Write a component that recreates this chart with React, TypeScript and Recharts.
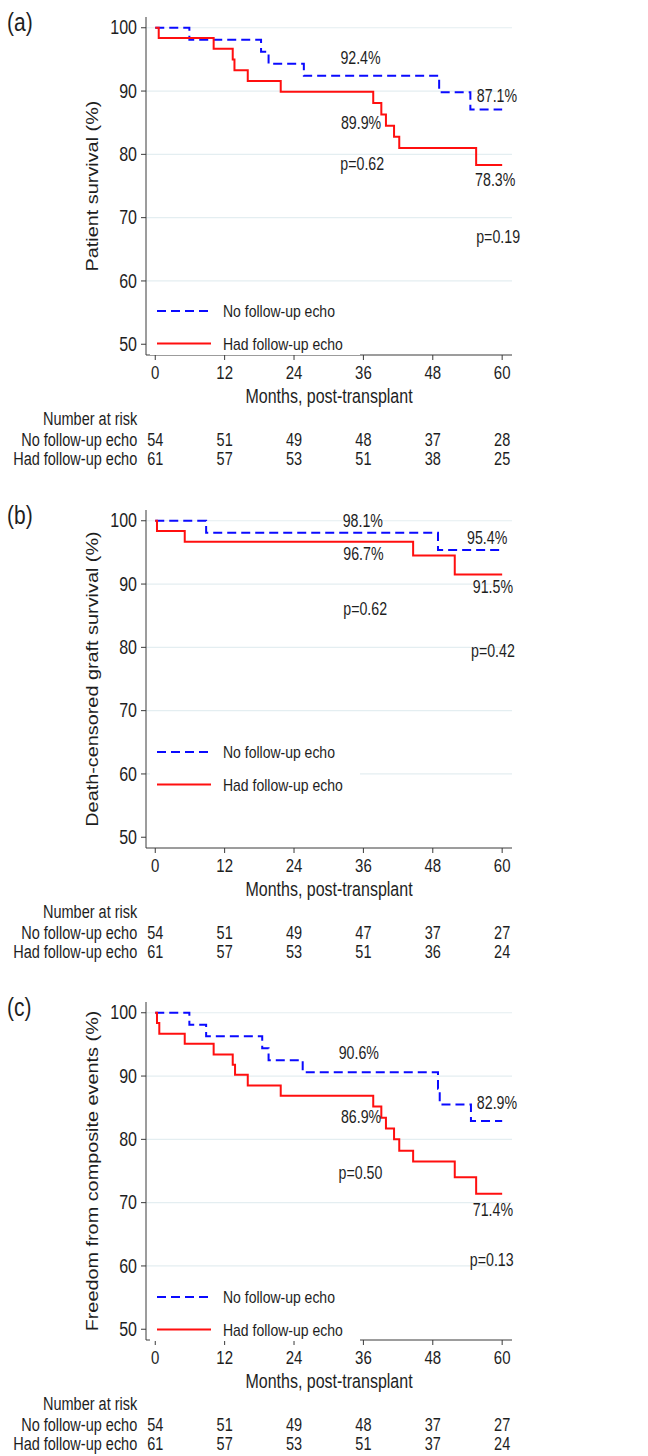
import React from 'react';
import { ComposedChart, Line, XAxis, YAxis, ReferenceLine, ReferenceDot, Legend } from 'recharts';

const FONT = '"Liberation Sans", Arial, Helvetica, sans-serif';
const INK = '#1e1e1e';
const AXIS = '#3a3a3a';
const GRID = '#e4eef1';
const BLUE = '#0a0aff';
const RED = '#ff0f0f';
const S = 1.24;

const MONTH_TICKS = [0, 12, 24, 36, 48, 60];
const Y_TICKS = [50, 60, 70, 80, 90, 100];
const GRID_VALUES = [60, 70, 80, 90, 100];
const SERIES_NAMES = ['No follow-up echo', 'Had follow-up echo'];
const X_DOMAIN = [-1.6, 61.7];
const Y_DOMAIN = [48.3, 101.7];

// ---- Panel (a): patient survival
const A_NO_T = [0, 5.9, 18.3, 19.6, 25.7, 49.1, 54.5, 60];
const A_NO_S = [100, 98.1, 96.2, 94.3, 92.4, 89.8, 87.1, 87.1];
const A_HAD_T = [0, 0.6, 10.1, 13.4, 13.7, 16.0, 21.7, 37.7, 39.1, 39.9, 41.3, 42.2, 55.5, 60];
const A_HAD_S = [100, 98.4, 96.7, 95.0, 93.3, 91.6, 89.9, 88.1, 86.3, 84.5, 82.8, 81.0, 78.3, 78.3];
const A_RISK_NO = [54, 51, 49, 48, 37, 28];
const A_RISK_HAD = [61, 57, 53, 51, 38, 25];
const A_NOTE_TEXT = ['92.4%', '87.1%', '89.9%', 'p=0.62', '78.3%', 'p=0.19'];
const A_NOTE_X = [35.5, 59.1, 35.6, 35.8, 58.8, 59.3];
const A_NOTE_Y = [95.2, 89.3, 85.0, 78.5, 75.9, 66.9];

// ---- Panel (b): death-censored graft survival
const B_NO_T = [0, 8.8, 48.9, 60];
const B_NO_S = [100, 98.1, 95.4, 95.4];
const B_HAD_T = [0, 0.3, 5.1, 44.6, 51.8, 60];
const B_HAD_S = [100, 98.4, 96.7, 94.5, 91.5, 91.5];
const B_RISK_NO = [54, 51, 49, 47, 37, 27];
const B_RISK_HAD = [61, 57, 53, 51, 36, 24];
const B_NOTE_TEXT = ['98.1%', '95.4%', '96.7%', '91.5%', 'p=0.62', 'p=0.42'];
const B_NOTE_X = [35.9, 57.4, 36.0, 58.4, 36.3, 58.4];
const B_NOTE_Y = [100.0, 97.3, 94.7, 89.5, 86.1, 79.4];

// ---- Panel (c): freedom from composite events
const C_NO_T = [0, 5.9, 8.8, 18.5, 19.6, 25.5, 48.9, 49.2, 54.6, 60];
const C_NO_S = [100, 98.1, 96.3, 94.4, 92.5, 90.6, 88.0, 85.5, 82.9, 82.9];
const C_HAD_T = [0, 0.3, 0.7, 5.1, 10.1, 13.4, 13.8, 16.0, 21.7, 37.7, 39.1, 39.9, 41.3, 42.2, 44.6, 51.8, 55.5, 60];
const C_HAD_S = [100, 98.4, 96.7, 95.1, 93.4, 91.8, 90.2, 88.5, 86.9, 85.2, 83.4, 81.7, 80.0, 78.2, 76.5, 74.0, 71.4, 71.4];
const C_RISK_NO = [54, 51, 49, 48, 37, 27];
const C_RISK_HAD = [61, 57, 53, 51, 37, 24];
const C_NOTE_TEXT = ['90.6%', '82.9%', '86.9%', 'p=0.50', '71.4%', 'p=0.13'];
const C_NOTE_X = [35.2, 59.1, 35.6, 35.5, 58.4, 58.2];
const C_NOTE_Y = [93.6, 85.7, 83.6, 74.7, 68.9, 60.9];

const toRows = (t: number[], s: number[]) => t.map((v, i) => ({ t: v, s: s[i] }));
const toRisk = (n: number[]) => MONTH_TICKS.map((m, i) => ({ t: m, n: n[i] }));
const toNotes = (txt: string[], x: number[], y: number[]) => txt.map((v, i) => ({ text: v, x: x[i], y: y[i] }));

function SText({ x, y, anchor = 'middle', size = 16, children }: any) {
  return (
    <text
      transform={`translate(${x},${y}) scale(1,${S})`}
      textAnchor={anchor}
      dominantBaseline="central"
      fontSize={size}
      fontFamily={FONT}
      fill={INK}
    >
      {children}
    </text>
  );
}

const YTick = (p: any) => (
  <SText x={p.x} y={p.y} anchor="end" size={16}>{p.payload.value}</SText>
);

const XTick = (p: any) => (
  <SText x={p.x} y={p.y + 13} size={15}>{p.payload.value}</SText>
);

const XLabel = (p: any) => {
  const vb = p.viewBox || {};
  return <SText x={vb.x + vb.width / 2} y={vb.y + 41} size={16}>Months, post-transplant</SText>;
};

const YLabel = (p: any) => {
  const vb = p.viewBox || {};
  const cx = vb.x + 93;
  const cy = vb.y + vb.height / 2;
  return (
    <text
      transform={`translate(${cx},${cy}) rotate(-90) scale(${S},1)`}
      textAnchor="middle"
      dominantBaseline="central"
      fontSize={16}
      fontFamily={FONT}
      fill={INK}
    >
      {p.text}
    </text>
  );
};

const RiskTick = (p: any) => {
  const idx = MONTH_TICKS.indexOf(p.payload.value);
  const rowY = p.y + p.rowOffset;
  return (
    <g>
      {idx === 0 && p.header ? (
        <SText x={p.x - 18} y={p.y + 12.5} anchor="end" size={14.5}>Number at risk</SText>
      ) : null}
      {idx === 0 ? (
        <SText x={p.x - 18} y={rowY} anchor="end" size={14.5}>{p.rowLabel}</SText>
      ) : null}
      <SText x={p.x} y={rowY} size={14.5}>{p.values[idx]}</SText>
    </g>
  );
};

const LegendBox = (p: any) => {
  const items = SERIES_NAMES.map((n) => (p.payload || []).find((e: any) => e.value === n)).filter(Boolean);
  return (
    <svg width={210} height={72} style={{ display: 'block' }}>
      {items.map((e: any, i: number) => {
        const y = 28 + i * 32.5;
        return (
          <g key={e.value}>
            <line
              x1={7}
              x2={61}
              y1={y}
              y2={y}
              stroke={e.color}
              strokeWidth={2}
              strokeDasharray={i === 0 ? '9 5' : undefined}
            />
            <SText x={73} y={y} anchor="start" size={14}>{e.value}</SText>
          </g>
        );
      })}
    </svg>
  );
};

function Panel({ letter, yLabel, no, had, notes, riskNo, riskHad, legendTop }: any) {
  return (
    <div style={{ position: 'relative', width: 648, height: 492 }}>
      <ComposedChart width={648} height={492} margin={{ top: 17, right: 136, left: 0, bottom: 24 }}>
        {GRID_VALUES.map((v) => (
          <ReferenceLine key={v} xAxisId="m" y={v} stroke={GRID} strokeWidth={1.2} />
        ))}
        <XAxis
          xAxisId="m"
          type="number"
          dataKey="t"
          domain={X_DOMAIN}
          ticks={MONTH_TICKS}
          interval={0}
          allowDataOverflow
          height={51}
          tickSize={5}
          tickMargin={0}
          stroke={AXIS}
          tick={<XTick />}
          label={<XLabel />}
        />
        <XAxis
          xAxisId="r1"
          type="number"
          dataKey="t"
          domain={X_DOMAIN}
          ticks={MONTH_TICKS}
          interval={0}
          allowDataOverflow
          height={42}
          axisLine={false}
          tickLine={false}
          tickSize={0}
          tickMargin={0}
          tick={<RiskTick values={riskNo} rowLabel={SERIES_NAMES[0]} header rowOffset={33} />}
        />
        <XAxis
          xAxisId="r2"
          type="number"
          dataKey="t"
          domain={X_DOMAIN}
          ticks={MONTH_TICKS}
          interval={0}
          allowDataOverflow
          height={20}
          axisLine={false}
          tickLine={false}
          tickSize={0}
          tickMargin={0}
          tick={<RiskTick values={riskHad} rowLabel={SERIES_NAMES[1]} rowOffset={10.5} />}
        />
        <YAxis
          type="number"
          domain={Y_DOMAIN}
          ticks={Y_TICKS}
          interval={0}
          allowDataOverflow
          width={146}
          tickSize={5}
          tickMargin={4}
          stroke={AXIS}
          tick={<YTick />}
          label={<YLabel text={yLabel} />}
        />
        {/* invisible carriers for the number-at-risk rows (give those axes their data) */}
        <Line
          xAxisId="r1"
          data={toRisk(riskNo)}
          dataKey="n"
          name="risk-no"
          stroke="none"
          dot={false}
          activeDot={false}
          legendType="none"
          isAnimationActive={false}
        />
        <Line
          xAxisId="r2"
          data={toRisk(riskHad)}
          dataKey="n"
          name="risk-had"
          stroke="none"
          dot={false}
          activeDot={false}
          legendType="none"
          isAnimationActive={false}
        />
        <Line
          xAxisId="m"
          data={no}
          dataKey="s"
          name={SERIES_NAMES[0]}
          type="stepAfter"
          stroke={BLUE}
          strokeWidth={2}
          strokeDasharray="9 5"
          dot={false}
          activeDot={false}
          isAnimationActive={false}
        />
        <Line
          xAxisId="m"
          data={had}
          dataKey="s"
          name={SERIES_NAMES[1]}
          type="stepAfter"
          stroke={RED}
          strokeWidth={2}
          dot={false}
          activeDot={false}
          isAnimationActive={false}
        />
        {notes.map((n: any) => (
          <ReferenceDot
            key={n.text + n.x}
            xAxisId="m"
            x={n.x}
            y={n.y}
            r={1}
            fill="none"
            stroke="none"
            label={(lp: any) => {
              const vb = lp.viewBox || {};
              return (
                <SText x={vb.x + (vb.width || 0) / 2} y={vb.y + (vb.height || 0) / 2} size={14.2}>
                  {n.text}
                </SText>
              );
            }}
          />
        ))}
        <Legend
          layout="vertical"
          align="center"
          verticalAlign="middle"
          content={<LegendBox />}
          wrapperStyle={{ position: 'absolute', left: 150, top: legendTop, width: 210, height: 72, backgroundColor: '#fff' }}
        />
      </ComposedChart>
      <div
        style={{
          position: 'absolute',
          left: 7,
          top: 9,
          fontFamily: FONT,
          fontSize: 21,
          lineHeight: '26px',
          color: INK,
          transform: `scaleY(${S})`,
          transformOrigin: 'center',
        }}
      >
        {letter}
      </div>
    </div>
  );
}

const PANELS = [
  {
    letter: '(a)',
    yLabel: 'Patient survival (%)',
    no: toRows(A_NO_T, A_NO_S),
    had: toRows(A_HAD_T, A_HAD_S),
    notes: toNotes(A_NOTE_TEXT, A_NOTE_X, A_NOTE_Y),
    riskNo: A_RISK_NO,
    riskHad: A_RISK_HAD,
    legendTop: 283,
  },
  {
    letter: '(b)',
    yLabel: 'Death-censored graft survival (%)',
    no: toRows(B_NO_T, B_NO_S),
    had: toRows(B_HAD_T, B_HAD_S),
    notes: toNotes(B_NOTE_TEXT, B_NOTE_X, B_NOTE_Y),
    riskNo: B_RISK_NO,
    riskHad: B_RISK_HAD,
    legendTop: 231,
  },
  {
    letter: '(c)',
    yLabel: 'Freedom from composite events (%)',
    no: toRows(C_NO_T, C_NO_S),
    had: toRows(C_HAD_T, C_HAD_S),
    notes: toNotes(C_NOTE_TEXT, C_NOTE_X, C_NOTE_Y),
    riskNo: C_RISK_NO,
    riskHad: C_RISK_HAD,
    legendTop: 284,
  },
];

const PANEL_TOPS = [0, 492.5, 985];

export default function App() {
  return (
    <div style={{ position: 'absolute', left: 0, top: 0, width: 648, height: 1456, background: '#fff', overflow: 'hidden' }}>
      {PANELS.map((p, i) => (
        <div key={p.letter} style={{ position: 'absolute', left: 0, top: PANEL_TOPS[i], width: 648, height: 492 }}>
          <Panel {...p} />
        </div>
      ))}
    </div>
  );
}
